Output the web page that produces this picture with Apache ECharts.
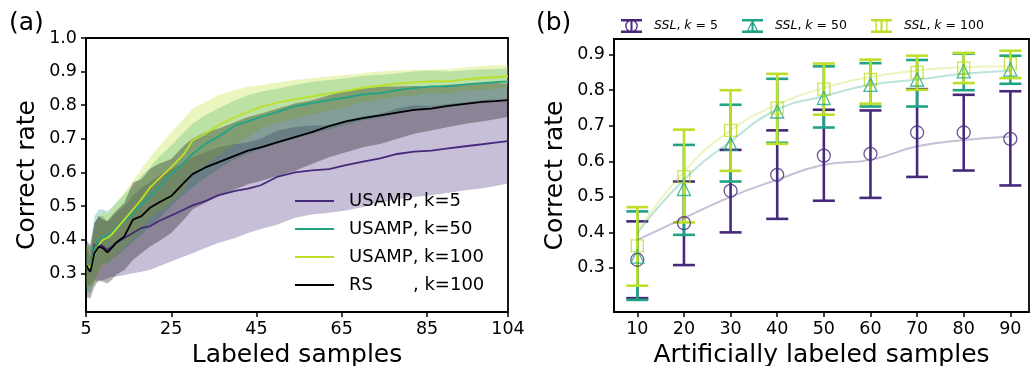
<!DOCTYPE html>
<html>
<head>
<meta charset="utf-8">
<script src="https://cdn.jsdelivr.net/npm/echarts@6/dist/echarts.min.js"></script>
<style>
html, body { margin: 0; padding: 0; background: #fff; }
#chart { width: 1031px; height: 366px; }
</style>
</head>
<body>
<div id="chart"></div>
<script>
// (a) labeled samples, mean and band of correct rate
const xs = [5, 6, 7, 8, 9, 10, 11, 12, 14, 16, 18, 20, 22, 25, 28, 30, 33, 36, 40, 43, 46, 50, 54, 58, 62, 66, 70, 74, 78, 82, 86, 90, 94, 98, 101, 104]

const k5Mean = [0.32, 0.305, 0.385, 0.388, 0.38, 0.37, 0.378, 0.39, 0.405, 0.42, 0.435, 0.44, 0.455, 0.472, 0.49, 0.502, 0.515, 0.532, 0.545, 0.552, 0.562, 0.588, 0.6, 0.606, 0.61, 0.622, 0.632, 0.642, 0.655, 0.662, 0.665, 0.672, 0.678, 0.684, 0.689, 0.693]
const k5Lo = [0.26, 0.265, 0.28, 0.275, 0.28, 0.285, 0.29, 0.29, 0.295, 0.3, 0.305, 0.31, 0.32, 0.335, 0.35, 0.36, 0.375, 0.39, 0.405, 0.42, 0.432, 0.445, 0.465, 0.475, 0.48, 0.487, 0.497, 0.51, 0.52, 0.527, 0.532, 0.54, 0.547, 0.553, 0.56, 0.567]
const k5Hi = [0.38, 0.35, 0.45, 0.47, 0.47, 0.455, 0.465, 0.48, 0.5, 0.53, 0.555, 0.57, 0.59, 0.61, 0.63, 0.645, 0.66, 0.675, 0.685, 0.69, 0.7, 0.725, 0.735, 0.74, 0.74, 0.755, 0.767, 0.774, 0.79, 0.8, 0.798, 0.804, 0.809, 0.815, 0.818, 0.82]

const k50Mean = [0.32, 0.31, 0.375, 0.4, 0.41, 0.41, 0.42, 0.435, 0.455, 0.48, 0.505, 0.53, 0.555, 0.595, 0.63, 0.655, 0.685, 0.706, 0.74, 0.752, 0.765, 0.78, 0.797, 0.806, 0.815, 0.823, 0.832, 0.836, 0.845, 0.851, 0.856, 0.856, 0.862, 0.866, 0.869, 0.871]
const k50Lo = [0.25, 0.24, 0.28, 0.31, 0.33, 0.33, 0.34, 0.35, 0.37, 0.395, 0.415, 0.44, 0.46, 0.5, 0.535, 0.555, 0.585, 0.61, 0.64, 0.655, 0.67, 0.685, 0.7, 0.715, 0.728, 0.742, 0.755, 0.763, 0.775, 0.785, 0.793, 0.795, 0.803, 0.81, 0.816, 0.82]
const k50Hi = [0.39, 0.38, 0.47, 0.49, 0.49, 0.485, 0.495, 0.51, 0.535, 0.56, 0.59, 0.615, 0.645, 0.68, 0.72, 0.745, 0.77, 0.79, 0.815, 0.83, 0.84, 0.85, 0.86, 0.87, 0.875, 0.88, 0.888, 0.89, 0.895, 0.9, 0.903, 0.9, 0.904, 0.907, 0.908, 0.91]

const k100Mean = [0.325, 0.315, 0.355, 0.385, 0.4, 0.405, 0.415, 0.43, 0.46, 0.49, 0.52, 0.555, 0.58, 0.615, 0.655, 0.695, 0.715, 0.74, 0.765, 0.78, 0.795, 0.808, 0.818, 0.826, 0.835, 0.842, 0.852, 0.858, 0.864, 0.868, 0.872, 0.871, 0.877, 0.881, 0.884, 0.886]
const k100Lo = [0.265, 0.255, 0.27, 0.3, 0.32, 0.335, 0.34, 0.355, 0.38, 0.405, 0.43, 0.465, 0.485, 0.51, 0.55, 0.6, 0.62, 0.65, 0.685, 0.705, 0.73, 0.748, 0.76, 0.772, 0.784, 0.794, 0.81, 0.816, 0.825, 0.83, 0.838, 0.834, 0.842, 0.845, 0.848, 0.854]
const k100Hi = [0.385, 0.375, 0.44, 0.47, 0.48, 0.475, 0.49, 0.505, 0.54, 0.575, 0.61, 0.645, 0.675, 0.72, 0.76, 0.79, 0.81, 0.83, 0.845, 0.855, 0.86, 0.868, 0.875, 0.88, 0.886, 0.89, 0.895, 0.9, 0.903, 0.905, 0.906, 0.908, 0.912, 0.917, 0.92, 0.918]

const rsMean = [0.325, 0.305, 0.36, 0.38, 0.375, 0.362, 0.375, 0.39, 0.41, 0.46, 0.47, 0.495, 0.51, 0.53, 0.57, 0.595, 0.615, 0.63, 0.65, 0.665, 0.675, 0.69, 0.705, 0.72, 0.738, 0.752, 0.762, 0.77, 0.778, 0.786, 0.79, 0.798, 0.804, 0.81, 0.812, 0.815]
const rsLo = [0.23, 0.225, 0.26, 0.28, 0.275, 0.27, 0.28, 0.295, 0.31, 0.34, 0.36, 0.38, 0.395, 0.42, 0.46, 0.49, 0.51, 0.53, 0.55, 0.565, 0.575, 0.59, 0.605, 0.625, 0.645, 0.66, 0.675, 0.685, 0.7, 0.715, 0.725, 0.735, 0.745, 0.752, 0.758, 0.765]
const rsHi = [0.4, 0.385, 0.45, 0.47, 0.46, 0.455, 0.47, 0.485, 0.51, 0.57, 0.58, 0.61, 0.625, 0.64, 0.68, 0.7, 0.72, 0.73, 0.75, 0.765, 0.775, 0.79, 0.805, 0.815, 0.83, 0.844, 0.85, 0.855, 0.856, 0.857, 0.855, 0.861, 0.863, 0.868, 0.866, 0.865]

const aTicksX = [5, 25, 45, 65, 85, 104]
const aTicksY = [0.3, 0.4, 0.5, 0.6, 0.7, 0.8, 0.9, 1.0]

// (b) artificially labeled samples, mean with error bar + trend
const sslX = [10, 20, 30, 40, 50, 60, 70, 80, 90]
const ssl5Mean = [0.323, 0.426, 0.517, 0.562, 0.616, 0.621, 0.681, 0.681, 0.663]
const ssl5Lo = [0.215, 0.308, 0.4, 0.438, 0.489, 0.497, 0.556, 0.574, 0.532]
const ssl5Hi = [0.431, 0.543, 0.632, 0.687, 0.745, 0.743, 0.803, 0.787, 0.797]
const ssl5Trend = [0.379, 0.44, 0.5, 0.548, 0.59, 0.604, 0.642, 0.66, 0.67]
const ssl50Mean = [0.332, 0.522, 0.649, 0.74, 0.778, 0.815, 0.83, 0.853, 0.858]
const ssl50Lo = [0.21, 0.393, 0.543, 0.652, 0.695, 0.754, 0.754, 0.8, 0.818]
const ssl50Hi = [0.459, 0.646, 0.759, 0.832, 0.867, 0.876, 0.885, 0.903, 0.897]
const ssl50Trend = [0.398, 0.548, 0.656, 0.745, 0.783, 0.815, 0.83, 0.846, 0.855]
const ssl100Mean = [0.362, 0.557, 0.687, 0.75, 0.803, 0.83, 0.85, 0.862, 0.875]
const ssl100Lo = [0.25, 0.428, 0.573, 0.649, 0.731, 0.762, 0.801, 0.82, 0.834]
const ssl100Hi = [0.471, 0.689, 0.8, 0.846, 0.875, 0.886, 0.897, 0.905, 0.911]
const ssl100Trend = [0.402, 0.571, 0.687, 0.759, 0.806, 0.837, 0.855, 0.865, 0.867]

const bTicksX = [10, 20, 30, 40, 50, 60, 70, 80, 90]
const bTicksY = [0.3, 0.4, 0.5, 0.6, 0.7, 0.8, 0.9]

const FONT = 'DejaVu Sans'
const C5 = '#46297a'
const C50 = '#21a386'
const C100 = '#bcdf27'
const CRS = '#000000'

const pairs = (x, y) => x.map((v, i) => [v, y[i]])

// shaded band: one polygon, upper edge forward then lower edge back
const bandSeries = (key, lo, hi, color) => ({
  name: key + '-band', type: 'custom', xAxisIndex: 0, yAxisIndex: 0,
  silent: true, clip: true,
  encode: { x: 0, y: [1, 2] },
  data: xs.map((x, i) => [x, lo[i], hi[i]]),
  renderItem: (params, api) => {
    if (params.dataIndex !== 0) return null
    const pts = []
    for (let i = 0; i < xs.length; i++) pts.push(api.coord([xs[i], hi[i]]))
    for (let i = xs.length - 1; i >= 0; i--) pts.push(api.coord([xs[i], lo[i]]))
    return {
      type: 'polygon',
      shape: { points: pts },
      style: { fill: color, opacity: 0.3 }
    }
  }
})

const meanLine = (name, y, color) => ({
  name: name, type: 'line', xAxisIndex: 0, yAxisIndex: 0,
  data: pairs(xs, y), symbol: 'none',
  lineStyle: { color: color, width: 1.8 }, itemStyle: { color: color }
})

const trendLine = (key, y, color) => ({
  name: key + '-trend', type: 'line', xAxisIndex: 1, yAxisIndex: 1,
  data: pairs(sslX, y), symbol: 'none', smooth: true, silent: true,
  lineStyle: { color: color, width: 2, opacity: 0.3 }
})

const errorBars = (name, lo, hi, color) => ({
  name: name, type: 'custom', xAxisIndex: 1, yAxisIndex: 1,
  itemStyle: { color: color },
  encode: { x: 0, y: [1, 2] },
  data: sslX.map((x, i) => [x, lo[i], hi[i]]),
  renderItem: (params, api) => {
    const top = api.coord([api.value(0), api.value(2)])
    const bot = api.coord([api.value(0), api.value(1)])
    const w = 11
    const style = { stroke: color, lineWidth: 2.6 }
    return {
      type: 'group',
      children: [
        { type: 'line', shape: { x1: top[0], y1: top[1], x2: bot[0], y2: bot[1] }, style: style },
        { type: 'line', shape: { x1: top[0] - w, y1: top[1], x2: top[0] + w, y2: top[1] }, style: style },
        { type: 'line', shape: { x1: bot[0] - w, y1: bot[1], x2: bot[0] + w, y2: bot[1] }, style: style }
      ]
    }
  }
})

const markers = (key, y, color, symbol, size) => ({
  name: key + '-mark', type: 'scatter', xAxisIndex: 1, yAxisIndex: 1,
  data: pairs(sslX, y), symbol: symbol, symbolSize: size, silent: true,
  itemStyle: { color: 'rgba(255,255,255,0)', borderColor: color, borderWidth: 1.3 }
})

// legend icons: caps + bar + hollow marker
const capsBar = 'M0 0H21V2.5H0Z M0 11.5H21V14H0Z M9.5 0H11.5V14H9.5Z '
const iconCircle = 'path://' + capsBar + 'M4.2 7A6.3 6.3 0 1 1 16.8 7A6.3 6.3 0 1 1 4.2 7Z M5.5 7A5 5 0 1 0 15.5 7A5 5 0 1 0 5.5 7Z'
const iconTri = 'path://' + capsBar + 'M10.5 1L16.5 12.5L4.5 12.5Z M10.5 3.6L6.4 11.3L14.6 11.3Z'
const iconSq = 'path://' + capsBar + 'M4.5 1H16.5V13H4.5Z M5.8 2.3V11.7H15.2V2.3Z'

const sslRich = {
  i: { fontStyle: 'italic', fontFamily: FONT, fontSize: 12.5, color: '#000' },
  n: { fontFamily: FONT, fontSize: 12.5, color: '#000' }
}
const sslLabel = { 'SSL, k = 5': '5', 'SSL, k = 50': '50', 'SSL, k = 100': '100' }

const sslLegend = (name, icon, left) => ({
  left: left, top: 14, orient: 'horizontal', selectedMode: false,
  itemWidth: 21, itemHeight: 14,
  data: [{ name: name, icon: icon }],
  formatter: n => '{i|SSL}{n|, }{i|k}{n| = ' + sslLabel[n] + '}',
  textStyle: { padding: [0, 0, 0, 7], rich: sslRich }
})

const tickAxisX = (gridIndex, min, max, ticks, name) => ({
  gridIndex: gridIndex, type: 'value', min: min, max: max,
  name: name, nameLocation: 'middle', nameGap: 28,
  nameTextStyle: { fontFamily: FONT, fontSize: 25, color: '#000' },
  axisLine: { show: true, onZero: false, lineStyle: { color: '#000', width: 1.8 } },
  axisTick: { show: true, inside: false, length: 5, customValues: ticks, lineStyle: { color: '#000', width: 1.5 } },
  axisLabel: { customValues: ticks, margin: 8, color: '#000', fontFamily: FONT, fontSize: 17.5 },
  splitLine: { show: false }
})

const tickAxisY = (gridIndex, min, max, ticks) => ({
  gridIndex: gridIndex, type: 'value', min: min, max: max,
  name: 'Correct rate', nameLocation: 'middle', nameGap: 46,
  nameTextStyle: { fontFamily: FONT, fontSize: 25, color: '#000' },
  axisLine: { show: true, onZero: false, lineStyle: { color: '#000', width: 1.8 } },
  axisTick: { show: true, inside: false, length: 5, customValues: ticks, lineStyle: { color: '#000', width: 1.5 } },
  axisLabel: { customValues: ticks, margin: 9, color: '#000', fontFamily: FONT, fontSize: 17.5, formatter: v => v.toFixed(1) },
  splitLine: { show: false }
})

const chart = echarts.init(document.getElementById('chart'), null, { renderer: 'canvas' })

const option = {
  animation: false,
  backgroundColor: '#fff',
  textStyle: { fontFamily: FONT },
  title: [
    { text: '(a)', left: 4, top: 6, textStyle: { fontFamily: FONT, fontSize: 25, fontWeight: 'normal', color: '#000' } },
    { text: '(b)', left: 531, top: 6, textStyle: { fontFamily: FONT, fontSize: 25, fontWeight: 'normal', color: '#000' } }
  ],
  grid: [
    { left: 86, top: 38, width: 422, height: 274, show: true, borderColor: '#000', borderWidth: 1.8, backgroundColor: 'transparent', outerBoundsMode: 'none' },
    { left: 614, top: 39, width: 415, height: 273, show: true, borderColor: '#000', borderWidth: 1.8, backgroundColor: 'transparent', outerBoundsMode: 'none' }
  ],
  xAxis: [
    tickAxisX(0, 5, 104, aTicksX, 'Labeled samples'),
    tickAxisX(1, 5, 94, bTicksX, 'Artificially labeled samples')
  ],
  yAxis: [
    tickAxisY(0, 0.185, 1.0, aTicksY),
    tickAxisY(1, 0.176, 0.944, bTicksY)
  ],
  legend: [
    {
      left: 290, top: 186, orient: 'vertical', selectedMode: false,
      icon: 'rect', itemWidth: 39, itemHeight: 2, itemGap: 8,
      data: ['USAMP, k=5', 'USAMP, k=50', 'USAMP, k=100', 'RS       , k=100'],
      textStyle: { fontFamily: FONT, fontSize: 18, color: '#000', lineHeight: 20, padding: [0, 0, 0, 10] }
    },
    sslLegend('SSL, k = 5', iconCircle, 616),
    sslLegend('SSL, k = 50', iconTri, 737),
    sslLegend('SSL, k = 100', iconSq, 866)
  ],
  series: [
    bandSeries('k5', k5Lo, k5Hi, C5),
    bandSeries('k50', k50Lo, k50Hi, C50),
    bandSeries('k100', k100Lo, k100Hi, C100),
    bandSeries('rs', rsLo, rsHi, CRS),
    meanLine('USAMP, k=5', k5Mean, C5),
    meanLine('USAMP, k=50', k50Mean, C50),
    meanLine('USAMP, k=100', k100Mean, C100),
    meanLine('RS       , k=100', rsMean, CRS),

    trendLine('s5', ssl5Trend, C5),
    trendLine('s50', ssl50Trend, C50),
    trendLine('s100', ssl100Trend, C100),
    errorBars('SSL, k = 5', ssl5Lo, ssl5Hi, C5),
    markers('s5', ssl5Mean, C5, 'circle', 13),
    errorBars('SSL, k = 50', ssl50Lo, ssl50Hi, C50),
    markers('s50', ssl50Mean, C50, 'triangle', 13),
    errorBars('SSL, k = 100', ssl100Lo, ssl100Hi, C100),
    markers('s100', ssl100Mean, C100, 'rect', 12)
  ]
}

chart.setOption(option)
</script>
</body>
</html>
